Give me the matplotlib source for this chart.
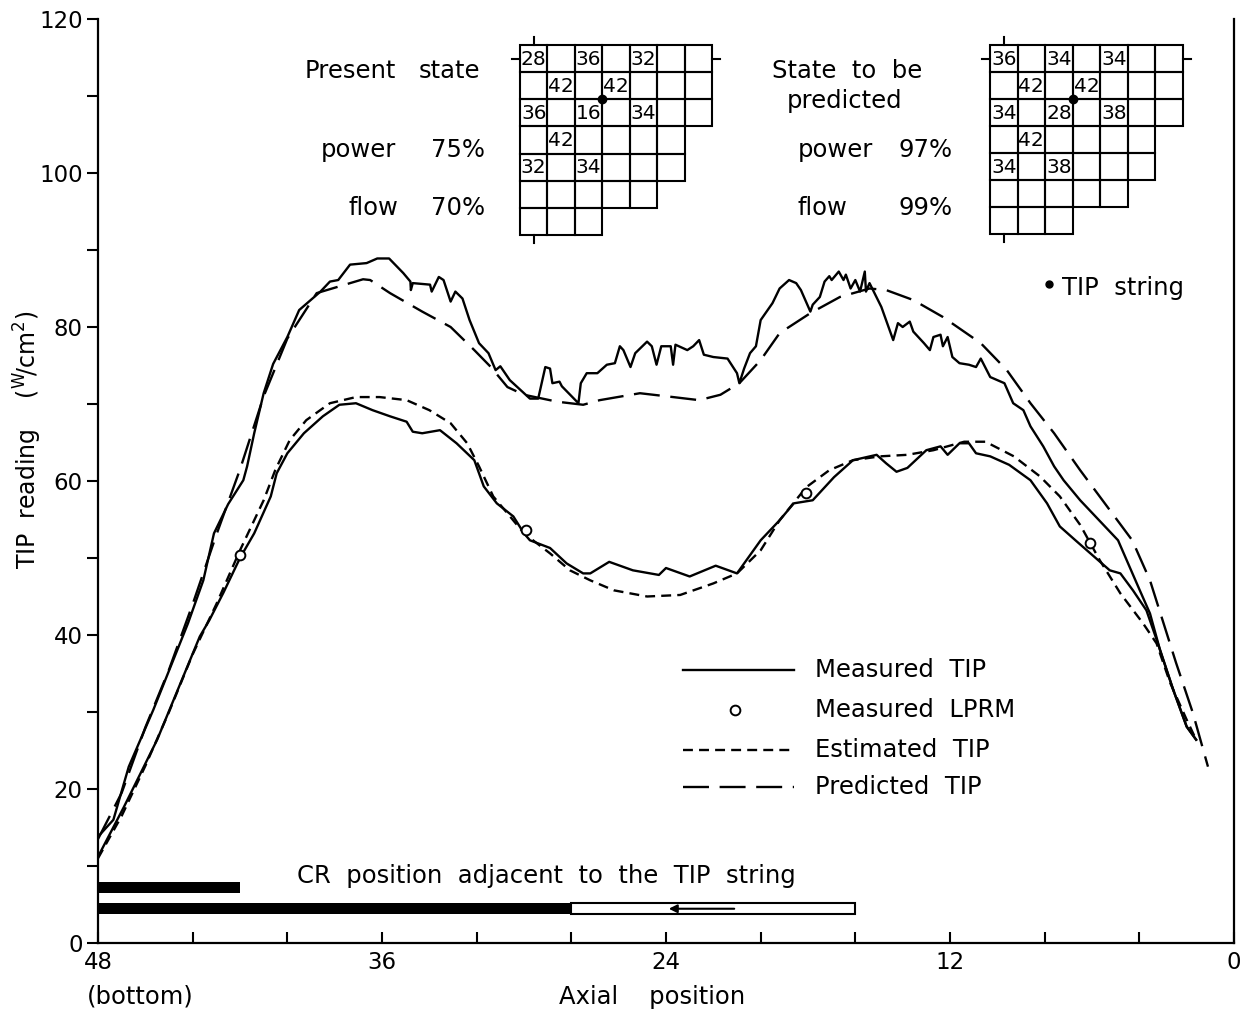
import numpy as np
import matplotlib.pyplot as plt
from matplotlib.patches import Rectangle

# --- data (axial position, W/cm^2) ---
meas97_x = [48.0, 47.35, 46.7, 45.66, 44.2, 43.55, 43.1, 42.5, 41.86, 41.7, 41.4, 41.0, 40.6, 40.0,
            39.5, 38.6, 38.2, 37.85, 37.35, 36.65, 36.2, 35.7, 35.1, 34.8, 34.78, 34.7, 33.97, 33.9,
            33.6, 33.4, 33.1, 32.9, 32.6, 32.3, 31.9, 31.5, 31.2, 31.0, 30.6, 30.0, 29.75, 29.4,
            29.1, 28.9, 28.8, 28.5, 28.4, 27.7, 27.6, 27.35, 26.9, 26.5, 26.16, 25.95, 25.8, 25.5,
            25.3, 24.8, 24.6, 24.4, 24.2, 23.8, 23.7, 23.6, 23.1, 22.85, 22.6, 22.4, 22.0, 21.4,
            21.0, 20.9, 20.7, 20.45, 20.2, 20.0, 19.5, 19.2, 18.8, 18.5, 18.3, 17.9, 17.8, 17.5,
            17.3, 17.1, 17.0, 16.7, 16.5, 16.4, 16.2, 16.0, 15.8, 15.6, 15.55, 15.4, 14.9, 14.4,
            14.2, 14.0, 13.7, 13.55, 13.1, 12.85, 12.7, 12.4, 12.3, 12.1, 11.9, 11.6, 11.2, 10.9,
            10.7, 10.3, 9.7, 9.33, 8.9, 8.6, 8.06, 7.6, 7.2, 6.5, 4.9, 3.98, 3.55, 3.13, 2.57,
            2.0, 1.6]
meas97_y = [13.8, 16.0, 22.9, 30.3, 41.5, 47.1, 53.2, 57.0, 60.1, 61.9, 66.2, 71.4, 75.2, 78.7,
            82.2, 84.6, 85.9, 86.1, 88.1, 88.3, 88.9, 88.9, 87.0, 85.9, 84.8, 85.7, 85.5, 84.6,
            86.5, 86.1, 83.3, 84.6, 83.7, 80.9, 77.9, 76.6, 74.4, 74.9, 73.1, 71.4, 70.7, 70.7,
            74.8, 74.6, 72.7, 72.9, 72.3, 70.1, 72.7, 74.0, 74.0, 75.1, 75.3, 77.5, 77.0, 74.8,
            76.6, 78.1, 77.5, 75.1, 77.5, 77.5, 75.1, 77.7, 77.0, 77.5, 78.3, 76.4, 76.1, 75.9,
            74.0, 72.7, 74.6, 76.6, 77.5, 80.9, 83.1, 85.0, 86.1, 85.7, 84.8, 82.0, 82.9, 83.9,
            85.9, 86.6, 86.1, 87.2, 86.1, 86.8, 85.0, 86.1, 84.6, 87.2, 84.6, 85.7, 82.6, 78.3,
            80.5, 80.0, 80.7, 79.4, 77.9, 77.0, 78.7, 79.0, 77.5, 78.7, 76.1, 75.3, 75.1, 74.8,
            75.9, 73.5, 72.7, 70.1, 69.2, 67.1, 64.5, 61.9, 60.1, 57.5, 52.3, 45.8, 42.8, 38.1,
            32.9, 28.1, 26.4]

meas75_x = [48.0, 46.9, 45.5, 43.7, 43.3, 42.7, 42.0, 41.4, 40.7, 40.45, 40.0, 39.3, 38.5, 37.8,
            37.1, 36.4, 35.66, 34.96, 34.7, 34.3, 33.55, 32.85, 32.1, 31.7, 31.15, 30.45, 30.0,
            29.75, 28.9, 28.2, 27.5, 27.2, 26.4, 25.4, 24.3, 24.0, 23.0, 21.9, 21.0, 20.0, 19.2,
            18.6, 17.8, 16.9, 16.1, 15.1, 14.7, 14.26, 13.8, 13.0, 12.4, 12.1, 11.6, 11.2, 10.9,
            10.3, 9.5, 8.6, 7.9, 7.36, 6.7, 5.25, 4.8, 4.27, 3.7, 3.27, 2.57, 2.0, 1.6]
meas75_y = [11.2, 17.7, 26.4, 39.8, 41.9, 45.5, 50.0, 53.2, 58.0, 61.0, 63.6, 66.2, 68.4, 69.9,
            70.1, 69.2, 68.4, 67.7, 66.4, 66.2, 66.6, 64.9, 62.7, 59.3, 57.1, 55.4, 53.2,
            52.3, 51.3, 49.3, 48.0, 48.0, 49.5, 48.4, 47.8, 48.7, 47.6, 49.0, 48.0, 52.3, 54.9,
            57.1, 57.5, 60.5, 62.7, 63.4, 62.3, 61.2, 61.7, 64.0, 64.5, 63.4, 64.9, 64.9, 63.6,
            63.2, 62.1, 60.1, 57.1, 54.1, 52.3, 48.4, 48.0, 45.8, 43.2, 39.4, 32.9, 28.1, 26.4]

est_x = [48.0, 47.0, 46.0, 45.0, 44.0, 43.0, 42.0, 41.0, 40.5, 39.9, 39.2, 38.2, 37.1, 36.1,
         34.96, 34.0, 33.1, 32.4, 31.9, 31.3, 30.7, 30.0, 28.9, 28.06, 27.2, 26.2, 24.8, 23.4,
         22.0, 21.0, 20.0, 19.2, 18.07, 17.1, 16.1, 14.96, 13.8, 12.7, 11.4, 10.5, 9.3, 8.2,
         7.36, 6.5, 5.67, 4.8, 3.84, 3.27, 2.7, 2.0, 1.6]
est_y = [11.0, 16.5, 23.0, 30.0, 37.5, 44.0, 51.0, 57.5, 61.5, 65.3, 67.9, 70.1, 70.9, 70.9,
         70.5, 69.2, 67.5, 64.9, 61.9, 58.0, 55.8, 53.2, 50.6, 48.4, 47.1, 45.8, 45.0, 45.2,
         46.7, 48.0, 51.0, 54.9, 59.2, 61.4, 62.7, 63.2, 63.4, 64.0, 65.1, 65.1, 63.2, 60.6,
         58.0, 54.3, 49.7, 45.4, 41.5, 38.9, 33.8, 29.0, 26.4]

pred_x = [48.0, 47.0, 46.0, 45.0, 44.0, 43.0, 42.0, 41.0, 40.0, 38.76, 36.8, 36.5, 35.66, 34.3,
          33.1, 32.1, 31.4, 30.7, 30.0, 28.6, 27.5, 26.8, 25.1, 23.7, 22.6, 21.7, 20.9, 20.0,
          19.2, 17.9, 16.65, 15.4, 14.7, 13.55, 12.3, 10.7, 9.6, 8.6, 7.6, 6.5, 4.3, 3.55,
          2.45, 1.74, 1.1]
pred_y = [13.5, 19.5, 28.0, 35.5, 44.0, 53.0, 61.5, 71.0, 78.5, 84.4, 86.2, 86.1, 84.4, 82.0,
          80.0, 77.0, 74.8, 72.2, 71.2, 70.3, 69.9, 70.5, 71.4, 70.9, 70.5, 71.2, 72.7, 75.7,
          79.2, 81.8, 83.9, 85.0, 84.8, 83.5, 81.3, 77.9, 74.4, 70.1, 66.2, 61.4, 52.3, 47.1,
          36.4, 29.9, 22.9]

lprm_x = [42.0, 29.9, 18.07, 6.1]
lprm_y = [50.4, 53.7, 58.4, 51.9]

# control rod positions adjacent to the TIP string (from, to)
cr_present = [(48, 28)]          # inserted part, present state
cr_present_out = [(28, 16)]      # withdrawn part (open bar)
cr_predicted = [(48, 42)]
cr_move = (21, 24)

# core maps (row strings, '' = empty cell)
row_len = [7, 7, 7, 6, 6, 5, 3]
map_present = [['28', '', '36', '', '32', '', ''],
               ['', '42', '', '42', '', '', ''],
               ['36', '', '16', '', '34', '', ''],
               ['', '42', '', '', '', ''],
               ['32', '', '34', '', '', ''],
               ['', '', '', '', ''],
               ['', '', '']]
map_predicted = [['36', '', '34', '', '34', '', ''],
                 ['', '42', '', '42', '', '', ''],
                 ['34', '', '28', '', '38', '', ''],
                 ['', '42', '', '', '', ''],
                 ['34', '', '38', '', '', ''],
                 ['', '', '', '', ''],
                 ['', '', '']]
tip_corner = (3, 2)

plt.rcParams['font.family'] = 'DejaVu Sans'
fig = plt.figure(figsize=(12.51, 10.11), dpi=100)
ax = fig.add_axes([98 / 1251, 68 / 1011, 1136 / 1251, 924 / 1011])

lw = 1.7
short_dash = (0, (4.2, 2.6))
long_dash = (0, (11, 4.5))
ax.plot(meas97_x, meas97_y, color='black', lw=lw)
ax.plot(meas75_x, meas75_y, color='black', lw=lw)
ax.plot(est_x, est_y, color='black', lw=lw, linestyle=short_dash)
ax.plot(pred_x, pred_y, color='black', lw=lw, linestyle=long_dash)
ax.plot(lprm_x, lprm_y, 'o', mfc='white', mec='black', ms=7, mew=1.4, zorder=4)

# CR bars
for a, b in cr_predicted:
    ax.barh(7.2, b - a, left=a, height=1.5, color='black')
for a, b in cr_present:
    ax.barh(4.45, b - a, left=a, height=1.4, color='black')
for a, b in cr_present_out:
    ax.barh(4.45, b - a, left=a, height=1.4, facecolor='white', edgecolor='black', lw=1.5)
ax.annotate('', xy=(cr_move[1], 4.45), xytext=(cr_move[0], 4.45),
            arrowprops=dict(arrowstyle='-|>', color='black', lw=1.5, mutation_scale=12))

fs = 17.5
ax.text(39.6, 8.7, 'CR  position  adjacent  to  the  TIP  string', fontsize=fs, va='center', ha='left')

ax.set_xlim(48, 0)
ax.set_ylim(0, 120)
ax.set_xticks([48, 36, 24, 12, 0])
ax.set_xticks(np.arange(0, 49, 4), minor=True)
ax.set_yticks(np.arange(0, 121, 20))
ax.set_yticks(np.arange(10, 120, 20), minor=True)
ax.tick_params(axis='x', which='both', direction='in', length=8, width=1.5, labelsize=16.5, pad=6)
ax.tick_params(axis='y', which='both', direction='out', length=8, width=1.5, labelsize=16.5, pad=3)
ax.spines['top'].set_visible(False)
for s in ['left', 'right', 'bottom']:
    ax.spines[s].set_linewidth(1.6)

ax.text(46.2, -7.0, '(bottom)', fontsize=fs, ha='center', va='center', clip_on=False)
ax.text(24.6, -7.0, 'Axial    position', fontsize=fs, ha='center', va='center', clip_on=False)
fig.text(28 / 1251, 1 - 440 / 1011, r'TIP  reading    ($^{\mathrm{W}}\!/\mathrm{cm}^{2}$)',
         rotation=90, fontsize=17, ha='center', va='center')

# state texts
ax.text(39.25, 113.3, 'Present', fontsize=fs, va='center', ha='left')
ax.text(31.85, 113.3, 'state', fontsize=fs, va='center', ha='right')
ax.text(38.6, 103.0, 'power', fontsize=fs, va='center', ha='left')
ax.text(31.65, 103.0, '75%', fontsize=fs, va='center', ha='right')
ax.text(37.4, 95.5, 'flow', fontsize=fs, va='center', ha='left')
ax.text(31.65, 95.5, '70%', fontsize=fs, va='center', ha='right')
ax.text(19.5, 113.3, 'State  to  be', fontsize=fs, va='center', ha='left')
ax.text(16.45, 109.3, 'predicted', fontsize=fs, va='center', ha='center')
ax.text(18.45, 103.0, 'power', fontsize=fs, va='center', ha='left')
ax.text(11.9, 103.0, '97%', fontsize=fs, va='center', ha='right')
ax.text(18.45, 95.5, 'flow', fontsize=fs, va='center', ha='left')
ax.text(11.9, 95.5, '99%', fontsize=fs, va='center', ha='right')
ax.plot([7.8], [85.6], 'o', color='black', ms=5)
ax.text(7.25, 85.1, 'TIP  string', fontsize=fs, va='center', ha='left')

# legend drawn by hand
leg_y = [35.5, 30.3, 25.1, 20.3]
leg_lab = ['Measured  TIP', 'Measured  LPRM', 'Estimated  TIP', 'Predicted  TIP']
ax.plot([23.3, 18.6], [leg_y[0]] * 2, color='black', lw=lw)
ax.plot([21.1], [leg_y[1]], 'o', mfc='white', mec='black', ms=7, mew=1.4)
ax.plot([23.3, 18.6], [leg_y[2]] * 2, color='black', lw=lw, linestyle=short_dash)
ax.plot([23.3, 18.6], [leg_y[3]] * 2, color='black', lw=lw, linestyle=long_dash)
for yy, lab in zip(leg_y, leg_lab):
    ax.text(17.7, yy, lab, fontsize=fs, va='center', ha='left')


def draw_map(rect, cells):
    g = fig.add_axes(rect)
    g.set_xlim(0, 7)
    g.set_ylim(7, 0)
    g.axis('off')
    for r, n in enumerate(row_len):
        for c in range(n):
            g.add_patch(Rectangle((c, r), 1, 1, fill=False, edgecolor='black', lw=1.5, clip_on=False))
            if cells[r][c]:
                g.text(c + 0.5, r + 0.52, cells[r][c], fontsize=14.5, ha='center', va='center')
    g.plot([0.5, 0.5], [0, -0.3], color='black', lw=1.5, clip_on=False)
    g.plot([0.5, 0.5], [7, 7.3], color='black', lw=1.5, clip_on=False)
    g.plot([0, -0.3], [0.5, 0.5], color='black', lw=1.5, clip_on=False)
    g.plot([7, 7.3], [0.5, 0.5], color='black', lw=1.5, clip_on=False)
    g.plot([tip_corner[0]], [tip_corner[1]], 'o', color='black', ms=6, clip_on=False)


draw_map([520 / 1251, 1 - 235 / 1011, 192 / 1251, 190 / 1011], map_present)
draw_map([990 / 1251, 1 - 234 / 1011, 193 / 1251, 189 / 1011], map_predicted)

plt.savefig('out.png', dpi=100)
